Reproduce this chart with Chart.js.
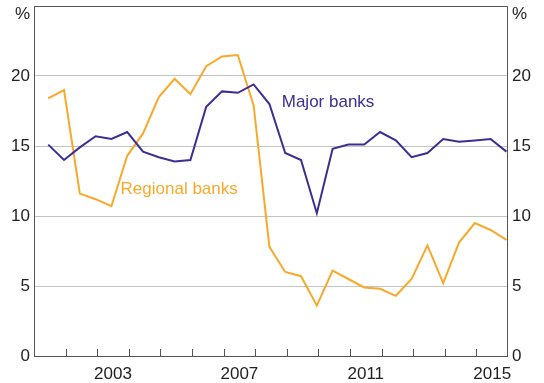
<!DOCTYPE html>
<html>
<head>
<meta charset="utf-8">
<script src="https://cdn.jsdelivr.net/npm/chart.js@4"></script>
<style>
  html, body { margin: 0; padding: 0; background: #fff; }
  #wrap { width: 544px; height: 383px; }
</style>
</head>
<body>
<div id="wrap"><canvas id="roeChart" width="544" height="383"></canvas></div>
<script>
// half-yearly observations (decimal year)
const periods = [2001.45, 2001.95, 2002.45, 2002.95, 2003.45, 2003.95, 2004.45, 2004.95,
  2005.45, 2005.95, 2006.45, 2006.95, 2007.45, 2007.95, 2008.45, 2008.95, 2009.45, 2009.95,
  2010.45, 2010.95, 2011.45, 2011.95, 2012.45, 2012.95, 2013.45, 2013.95, 2014.45, 2014.95,
  2015.45, 2015.95];
const majorBanks = [15.1, 14.0, 14.9, 15.7, 15.5, 16.0, 14.6, 14.2, 13.9, 14.0, 17.8, 18.9,
  18.8, 19.4, 18.0, 14.5, 14.0, 10.2, 14.8, 15.1, 15.1, 16.0, 15.4, 14.2, 14.5, 15.5, 15.3,
  15.4, 15.5, 14.6];
const regionalBanks = [18.4, 19.0, 11.6, 11.2, 10.7, 14.3, 15.9, 18.5, 19.8, 18.7, 20.7, 21.4,
  21.5, 17.9, 7.8, 6.0, 5.7, 3.6, 6.1, 5.5, 4.9, 4.8, 4.3, 5.5, 7.9, 5.2, 8.1, 9.5, 9.0, 8.3];
const yearLabels = [2003, 2007, 2011, 2015];
const yTicks = [0, 5, 10, 15, 20];

const FONT = "'Liberation Sans', Arial, sans-serif";
const MAJOR = "#3b2f94";
const REGIONAL = "#f9a92a";

const toPoints = vals => vals.map((v, i) => ({ x: periods[i], y: v }));

// frame, year ticks, % labels and series labels
const decor = {
  id: 'decor',
  afterDraw(chart) {
    const { ctx, chartArea: a, scales: { x, y } } = chart;
    ctx.save();
    ctx.strokeStyle = '#555';
    ctx.lineWidth = 1;
    ctx.strokeRect(a.left + 0.5, a.top + 0.5, a.right - a.left - 1, a.bottom - a.top);
    ctx.beginPath();
    for (let yr = 2002; yr <= 2015; yr++) {
      const px = Math.round(x.getPixelForValue(yr)) + 0.5;
      ctx.moveTo(px, a.bottom);
      ctx.lineTo(px, a.bottom - 7);
    }
    ctx.stroke();
    ctx.font = '17px ' + FONT;
    ctx.fillStyle = '#222';
    ctx.textBaseline = 'middle';
    ctx.textAlign = 'right';
    ctx.fillText('%', a.left - 4, 14);
    ctx.textAlign = 'left';
    ctx.fillText('%', a.right + 4, 14);
    ctx.textBaseline = 'alphabetic';
    ctx.fillStyle = MAJOR;
    ctx.fillText('Major banks', x.getPixelForValue(2008.84), y.getPixelForValue(17.8));
    ctx.fillStyle = REGIONAL;
    ctx.fillText('Regional banks', x.getPixelForValue(2003.74), y.getPixelForValue(11.57));
    ctx.restore();
  }
};

const yAxis = (pos, width) => ({
  position: pos,
  min: 0,
  max: 25,
  afterFit: s => { s.width = width; s.paddingTop = 0; s.paddingBottom = 0; },
  afterBuildTicks: s => { s.ticks = yTicks.map(v => ({ value: v })); },
  border: { display: false },
  grid: {
    drawTicks: false,
    drawOnChartArea: pos === 'left',
    color: c => (c.tick && c.tick.value > 0 ? '#c4c4c4' : 'rgba(0,0,0,0)'),
    lineWidth: 1
  },
  ticks: {
    padding: 4,
    color: '#222',
    font: { family: FONT, size: 17 }
  }
});

new Chart(document.getElementById('roeChart'), {
  type: 'line',
  data: {
    datasets: [{
      label: 'Major banks',
      data: toPoints(majorBanks),
      borderColor: MAJOR,
      borderWidth: 2,
      pointRadius: 0,
      tension: 0
    }, {
      label: 'Regional banks',
      data: toPoints(regionalBanks),
      borderColor: REGIONAL,
      borderWidth: 2,
      pointRadius: 0,
      tension: 0
    }]
  },
  options: {
    responsive: false,
    animation: false,
    layout: { padding: { top: 6, left: 0, right: 0, bottom: 0 } },
    plugins: { legend: { display: false }, tooltip: { enabled: false } },
    scales: {
      x: {
        type: 'linear',
        min: 2001,
        max: 2016,
        afterFit: s => { s.height = 27; s.paddingLeft = 0; s.paddingRight = 0; },
        afterBuildTicks: s => { s.ticks = yearLabels.map(v => ({ value: v + 0.5 })); },
        border: { display: false },
        grid: { display: false },
        ticks: {
          padding: 0,
          maxRotation: 0,
          autoSkip: false,
          color: '#222',
          font: { family: FONT, size: 17 },
          callback: v => String(Math.floor(v))
        }
      },
      y: yAxis('left', 34),
      y2: yAxis('right', 36)
    }
  },
  plugins: [decor]
});
</script>
</body>
</html>
